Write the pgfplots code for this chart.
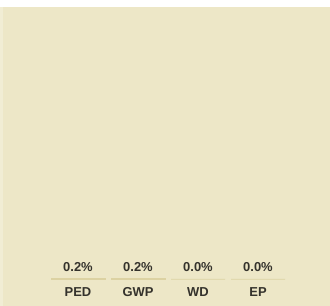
\documentclass[border=0pt]{standalone}
\usepackage{fontspec}
\setmainfont{Liberation Sans}
\usepackage{pgfplots}
\pgfplotsset{compat=1.18}
\definecolor{bg}{HTML}{EDE7C7}
\definecolor{bgleft}{HTML}{F1EDD4}
\definecolor{barc}{HTML}{DCD2A2}
\definecolor{txt}{HTML}{34322C}
\begin{document}
\begin{tikzpicture}
\fill[white] (0,0) rectangle (330bp,306bp);
\begin{axis}[
  at={(0,0)}, anchor=south west,
  scale only axis, width=330bp, height=299bp,
  axis background/.style={fill=bg},
  axis line style={draw=none},
  ybar, bar width=54bp,
  xmin=-1.3, xmax=4.2,
  ymin=-9.93, ymax=100,
  xtick=data, xticklabels={PED,GWP,WD,EP},
  ytick=\empty,
  major tick length=0pt,
  xticklabel style={font=\fontsize{13}{15}\selectfont\bfseries, text=txt, anchor=center, yshift=13.5bp},
  point meta=explicit symbolic,
  nodes near coords,
  every node near coord/.append style={font=\fontsize{13}{15}\selectfont\bfseries, text=txt, anchor=center, yshift=11.5bp},
  clip=false,
]
\addplot[fill=barc, draw=barc, line width=0.9bp] coordinates {
  (0,0.2) [0.2\%]
  (1,0.2) [0.2\%]
  (2,0.0) [0.0\%]
  (3,0.0) [0.0\%]
};
\end{axis}
\fill[bgleft] (0,0) rectangle (3bp,299bp);
\pgfresetboundingbox
\useasboundingbox (0,0) rectangle (330bp,306bp);
\end{tikzpicture}
\end{document}
